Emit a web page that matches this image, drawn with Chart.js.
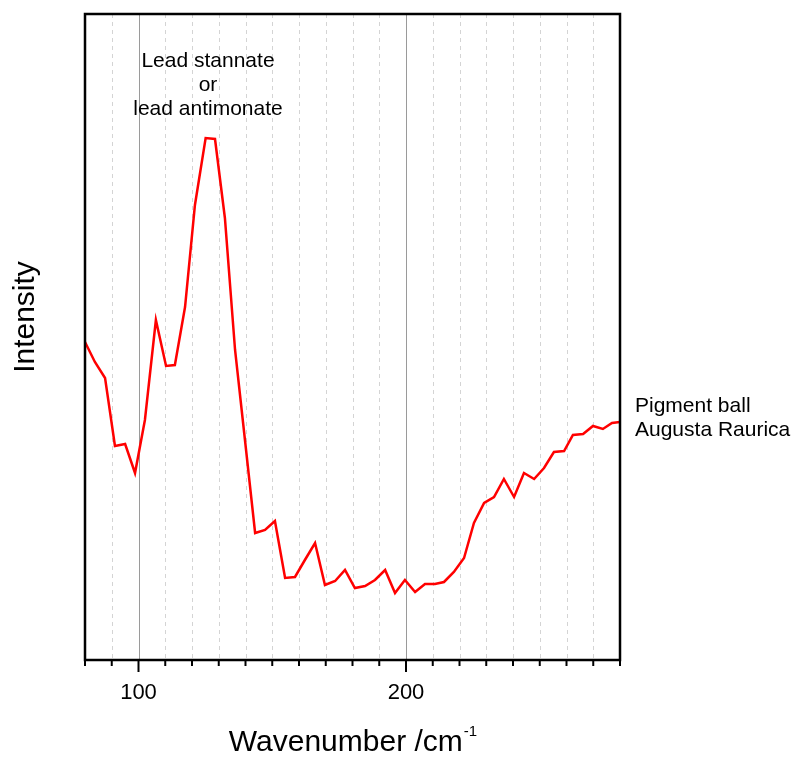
<!DOCTYPE html>
<html>
<head>
<meta charset="utf-8">
<script src="https://cdn.jsdelivr.net/npm/chart.js@4.4.0/dist/chart.umd.min.js"></script>
<style>
  html, body { margin: 0; padding: 0; background: #fff; }
  #wrap { width: 796px; height: 757px; }
</style>
</head>
<body>
<div id="wrap"><canvas id="ramanChart" width="796" height="757"></canvas></div>
<script>
// Raman spectrum, pigment ball from Augusta Raurica
const wavenumbers = [
    80.0, 83.7, 87.5, 91.2, 95.0, 98.7, 102.4, 106.5, 110.3, 113.6,
    117.4, 121.1, 125.1, 128.6, 132.3, 136.1, 139.8, 143.6, 147.3, 151.0,
    154.8, 158.5, 162.2, 166.0, 169.7, 173.5, 177.2, 180.9, 184.7, 188.4,
    192.2, 195.9, 199.6, 203.4, 207.1, 210.8, 214.2, 217.9, 221.7, 225.4,
    229.2, 232.9, 236.6, 240.4, 244.1, 247.9, 251.6, 255.3, 259.1, 262.4,
    266.2, 269.9, 273.6, 277.0, 280.0
];
const intensity = [
    318, 298, 282, 214, 216, 187, 240, 340, 294, 295,
    353, 455, 522, 521, 442, 310, 220, 127, 130, 139,
    82, 83, 100, 117, 75, 79, 90, 72, 74, 80,
    90, 67, 80, 68, 76, 76, 78, 88, 102, 137,
    157, 163, 181, 163, 187, 181, 192, 208, 209, 225,
    226, 234, 231, 237, 238
];
const xTicks = [80, 90, 100, 110, 120, 130, 140, 150, 160, 170, 180, 190, 200,
    210, 220, 230, 240, 250, 260, 270, 280];
const xLabels = [100, 200];

const FONT = "'Liberation Sans', Arial, sans-serif";

// grid lines, tick marks, frame and texts
const decorPlugin = {
    id: 'decor',
    beforeDatasetsDraw(chart) {
        const ctx = chart.ctx;
        const a = chart.chartArea;
        const xs = chart.scales.x;
        ctx.save();
        xTicks.forEach(v => {
            if (v <= 80 || v >= 280) return;
            const x = Math.round(xs.getPixelForValue(v)) + 0.5;
            const major = xLabels.includes(v);
            ctx.beginPath();
            ctx.setLineDash(major ? [] : [4, 4]);
            ctx.strokeStyle = major ? '#9a9a9a' : '#d4d4d4';
            ctx.lineWidth = 1;
            ctx.moveTo(x, a.top);
            ctx.lineTo(x, a.bottom);
            ctx.stroke();
        });
        ctx.restore();
    },
    afterDatasetsDraw(chart) {
        const ctx = chart.ctx;
        const a = chart.chartArea;
        const xs = chart.scales.x;
        ctx.save();
        ctx.setLineDash([]);
        ctx.strokeStyle = '#000';
        ctx.lineWidth = 2;
        xTicks.forEach(v => {
            const x = xs.getPixelForValue(v);
            const len = xLabels.includes(v) ? 12 : 6;
            ctx.beginPath();
            ctx.moveTo(x, a.bottom);
            ctx.lineTo(x, a.bottom + len);
            ctx.stroke();
        });
        ctx.lineWidth = 2.5;
        ctx.strokeRect(a.left, a.top, a.right - a.left, a.bottom - a.top);

        ctx.fillStyle = '#000';
        ctx.textBaseline = 'middle';
        ctx.font = '21px ' + FONT;
        ctx.textAlign = 'center';
        ctx.fillText('Lead stannate', 208, 61);
        ctx.fillText('or', 208, 85);
        ctx.fillText('lead antimonate', 208, 109);

        ctx.textAlign = 'left';
        ctx.fillText('Pigment ball', 635, 406);
        ctx.fillText('Augusta Raurica', 635, 430);

        ctx.font = '30px ' + FONT;
        ctx.save();
        ctx.translate(26, 317);
        ctx.rotate(-Math.PI / 2);
        ctx.textAlign = 'center';
        ctx.fillText('Intensity', 0, 0);
        ctx.restore();

        ctx.textBaseline = 'alphabetic';
        ctx.textAlign = 'left';
        const main = 'Wavenumber /cm';
        ctx.font = '30px ' + FONT;
        const w1 = ctx.measureText(main).width;
        ctx.font = '15px ' + FONT;
        const w2 = ctx.measureText('-1').width;
        const x0 = (a.left + a.right) / 2 - (w1 + w2) / 2;
        ctx.font = '30px ' + FONT;
        ctx.fillText(main, x0, 751);
        ctx.font = '15px ' + FONT;
        ctx.fillText('-1', x0 + w1 + 1, 736);
        ctx.restore();
    }
};

new Chart(document.getElementById('ramanChart'), {
    type: 'line',
    data: {
        labels: wavenumbers,
        datasets: [{
            label: 'Pigment ball Augusta Raurica',
            data: wavenumbers.map((x, i) => ({ x: x, y: intensity[i] })),
            borderColor: '#ff0000',
            borderWidth: 2.5,
            pointRadius: 0,
            tension: 0,
            fill: false
        }]
    },
    options: {
        responsive: false,
        animation: false,
        devicePixelRatio: 1,
        layout: { padding: { left: 85, right: 176, top: 14, bottom: 0 } },
        plugins: {
            legend: { display: false },
            tooltip: { enabled: false }
        },
        scales: {
            x: {
                type: 'linear',
                min: 80,
                max: 280,
                afterBuildTicks: (scale) => {
                    scale.ticks = xLabels.map(v => ({ value: v }));
                },
                afterFit: (scale) => { scale.height = 97; },
                grid: { display: false, drawTicks: false },
                border: { display: false },
                ticks: {
                    padding: 20,
                    color: '#000',
                    font: { family: FONT, size: 22 },
                    maxRotation: 0,
                    autoSkip: false
                }
            },
            y: {
                display: false,
                min: 0,
                max: 646
            }
        }
    },
    plugins: [decorPlugin]
});
</script>
</body>
</html>
